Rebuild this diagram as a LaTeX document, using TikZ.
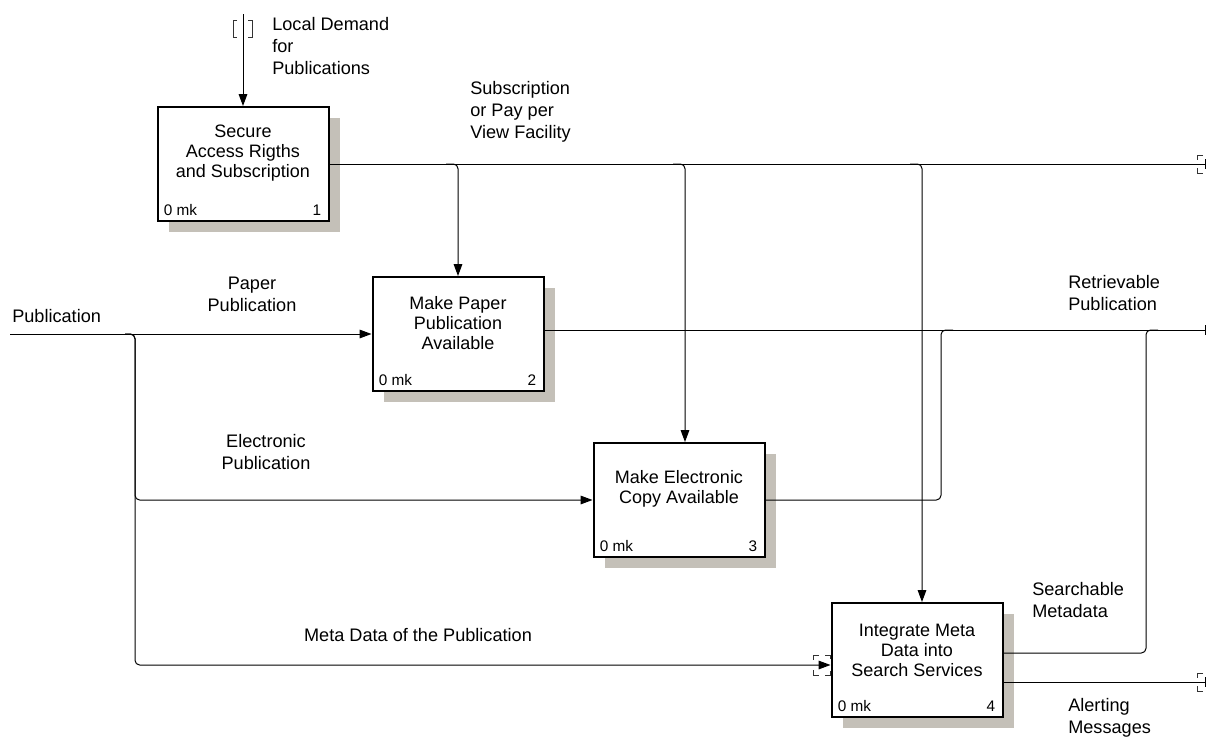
\documentclass[tikz,border=0pt]{standalone}
\usepackage{fontspec}
\setmainfont{Liberation Sans}
\usetikzlibrary{arrows.meta,shadows,calc}

\definecolor{shadegray}{RGB}{196,192,184}

\begin{document}
\begin{tikzpicture}[x=0.75pt,y=-0.75pt,
  actbox/.style={draw, line width=1.5pt, fill=white,
    minimum width=128.25pt, minimum height=85.5pt, inner sep=0pt,
    general shadow={shadow xshift=8.5pt, shadow yshift=-8.5pt, fill=shadegray}},
  title/.style={font=\fontsize{13.5}{15}\selectfont, align=center, inner sep=0pt},
  cnr/.style={font=\fontsize{11.5}{12}\selectfont, inner sep=0pt},
  lbl/.style={font=\fontsize{13.6}{16.5}\selectfont, inner sep=0pt},
  conn/.style={line width=0.75pt},
  arr/.style={conn, -{Triangle[length=9pt,width=6.5pt]}},
  barend/.style={conn, -{Bar[width=7.5pt,line width=1pt]}},
  tun/.style={line width=0.7pt, draw=black!80},
  rc/.style={rounded corners=3.5pt}]

\useasboundingbox (0,0) rectangle (1207,736);

% activity boxes
\node[actbox] (B1) at (243,164) {};
\node[actbox] (B2) at (458,334) {};
\node[actbox] (B3) at (679,500) {};
\node[actbox] (B4) at (917,660) {};

\node[title] (T1) at ($(B1.center)+(0,-11)$) {Secure\\Access Rigths\\and Subscription};
\node[title] (T2) at ($(B2.center)+(0,-11)$) {Make Paper\\Publication\\Available};
\node[title] (T3) at ($(B3.center)+(0,-11)$) {Make Electronic\\Copy Available};
\node[title] (T4) at ($(B4.center)+(0,-10)$) {Integrate Meta\\Data into\\Search Services};

\foreach \b/\n in {B1/1,B2/2,B3/3,B4/4}{
  \node[cnr, anchor=west] (\b mk) at ($(\b.south west)+(7,-12)$) {0 mk};
  \node[cnr, anchor=east] (\b no) at ($(\b.south east)+(-8,-12)$) {\n};
}

% control into box 1 (tunnelled)
\coordinate (ctl) at (243,14);
\draw[arr] (ctl) -- (B1.north);
\draw[tun] (237,20) -- (233,20) -- (233,37) -- (237,37);
\draw[tun] (248,20) -- (252,20) -- (252,37) -- (248,37);

% subscription facility line and its branches
\coordinate (sub) at (1206,164);
\draw[barend] (B1.east) -- (sub);
\draw[tun] (1203,155) -- (1197,155) -- (1197,160);
\draw[tun] (1197,168) -- (1197,173) -- (1203,173);
\draw[arr, rc] (446,164) -| (B2.north);
\draw[arr, rc] (673,164) -| ($(B3.north)+(6,0)$);
\draw[arr, rc] (910,164) -| ($(B4.north)+(5,0)$);

% publication input and its branches
\coordinate (pub) at (10,334);
\coordinate (j1) at (135,334);
\draw[arr] (pub) -- (B2.west);
\draw[arr, rc] ($(j1)+(-10,0)$) -- (j1) -- (135,500) -- (B3.west);
\draw[arr, rc] ($(j1)+(-10,0)$) -- (j1) -- (135,665) -- ($(B4.west)+(0,5)$);
\draw[tun] (819,655) -- (813,655) -- (813,660);
\draw[tun] (813,670) -- (813,675) -- (819,675);
\draw[tun] (825,655) -- (830,655) -- (830,659);
\draw[tun] (830,671) -- (830,675) -- (825,675);

% retrievable publication output
\coordinate (ret) at (1206,330);
\draw[barend] ($(B2.east)+(0,-4)$) -- (ret);
\draw[conn, rc] (B3.east) -- (941,500) -- (941,330) -- (953,330);
\draw[conn, rc] ($(B4.east)+(0,-7)$) -- (1146,653) -- (1146,330) -- (1158,330);

% alerting messages output
\coordinate (alr) at (1206,682);
\draw[barend] ($(B4.east)+(0,22)$) -- (alr);
\draw[tun] (1203,673) -- (1197,673) -- (1197,678);
\draw[tun] (1197,686) -- (1197,691) -- (1203,691);

% arrow labels
\node[lbl, anchor=west, align=left] (Lloc) at (272,46) {Local Demand\\for\\Publications};
\node[lbl, anchor=west, align=left] (Lsub) at (470,112) {Subscription\\or Pay per\\View Facility};
\node[lbl, anchor=west] (Lpub) at (12,316) {Publication};
\node[lbl, align=center] (Lpap) at (252,294) {Paper\\Publication};
\node[lbl, align=center] (Lele) at (266,452) {Electronic\\Publication};
\node[lbl] (Lmeta) at (418,635) {Meta Data of the Publication};
\node[lbl, anchor=west, align=left] (Lret) at (1068,293) {Retrievable\\Publication};
\node[lbl, anchor=west, align=left] (Lsea) at (1032,600) {Searchable\\Metadata};
\node[lbl, anchor=west, align=left] (Lalr) at (1068,718) {Alerting\\Messages};
\end{tikzpicture}
\end{document}
